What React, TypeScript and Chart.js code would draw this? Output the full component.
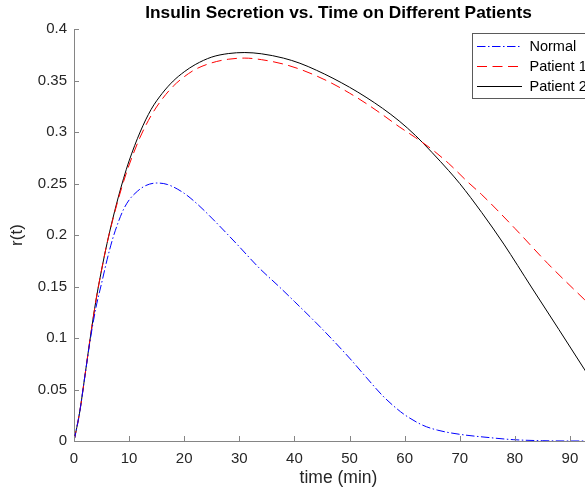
import React, { useEffect, useRef } from "react";
import { Chart, registerables } from "chart.js";

Chart.register(...registerables);

// ---- data ----
const tNormal = [0, 1, 2, 3, 4, 5, 6, 7, 8, 9, 10, 11.5, 13, 15, 17, 20, 22.5, 25, 29.5, 33.7, 37, 40, 45, 50, 53, 56, 58, 60, 63.3, 66, 70, 75.4, 79.7, 85, 92.7, 96];
const rNormal = [0, 0.027, 0.064, 0.1, 0.13, 0.153, 0.176, 0.196, 0.212, 0.225, 0.234, 0.2425, 0.248, 0.2505, 0.249, 0.2405, 0.2295, 0.2165, 0.1915, 0.1675, 0.151, 0.1355, 0.109, 0.0805, 0.062, 0.044, 0.034, 0.0255, 0.0153, 0.0105, 0.0065, 0.0033, 0.0013, 0.0003, 0, 0];

const tPatient1 = [0, 1, 2, 3, 4, 5, 6, 7, 8, 9, 10, 12, 14, 16, 18, 20, 22, 25, 28, 31, 34, 38, 41, 44, 47, 50, 53, 56, 59, 62, 65, 68, 71.5, 74, 80, 86, 92.7, 96];
const rPatient1 = [0, 0.027, 0.064, 0.102, 0.137, 0.166, 0.192, 0.214, 0.234, 0.252, 0.268, 0.295, 0.316, 0.332, 0.3445, 0.3537, 0.3608, 0.3672, 0.3707, 0.3718, 0.3703, 0.366, 0.361, 0.3545, 0.3468, 0.3378, 0.3278, 0.3168, 0.3052, 0.2945, 0.283, 0.2695, 0.2513, 0.2392, 0.2065, 0.1722, 0.137, 0.12];

const tPatient2 = [0, 1, 2, 3, 4, 5, 6, 7, 8, 9, 10, 12, 14, 16, 18, 20, 22, 25, 28, 31, 34, 38, 41, 44, 47, 50, 53, 56, 59, 62, 65, 68, 70, 74, 78, 83, 88, 92.7, 96];
const rPatient2 = [0, 0.027, 0.064, 0.102, 0.137, 0.166, 0.192, 0.215, 0.236, 0.255, 0.272, 0.3, 0.322, 0.3375, 0.3495, 0.3585, 0.3655, 0.3728, 0.3762, 0.3772, 0.376, 0.3718, 0.3668, 0.36, 0.3522, 0.3435, 0.3338, 0.323, 0.3108, 0.2965, 0.28, 0.2625, 0.25, 0.2218, 0.1912, 0.1495, 0.1082, 0.069, 0.041];

const seriesNames = ["Normal", "Patient 1", "Patient 2"];
const xTicks = [0, 10, 20, 30, 40, 50, 60, 70, 80, 90];
const xTickLabels = ["0", "10", "20", "30", "40", "50", "60", "70", "80", "90"];
const yTicks = [0, 0.05, 0.1, 0.15, 0.2, 0.25, 0.3, 0.35, 0.4];
const yTickLabels = ["0", "0.05", "0.1", "0.15", "0.2", "0.25", "0.3", "0.35", "0.4"];

const titleText = "Insulin Secretion vs. Time on Different Patients";
const xLabel = "time (min)";
const yLabel = "r(t)";

const FONT = "'Liberation Sans', Arial, Helvetica, sans-serif";
const AXIS_COLOR = "#858585";
const TEXT_COLOR = "#262626";

const styles = [
  { color: "#0000ff", dash: [8.5, 2.5, 1.5, 2.5] },
  { color: "#ff0000", dash: [10, 5.5] },
  { color: "#000000", dash: [] as number[] },
];

const toPts = (t: number[], r: number[]) => t.map((x, i) => ({ x, y: r[i] }));

const decor = {
  id: "matlabDecor",
  afterDraw(chart: any) {
    const { ctx, chartArea } = chart;
    const xs = chart.scales.x;
    const ys = chart.scales.y;
    ctx.save();
    // inward ticks
    ctx.strokeStyle = AXIS_COLOR;
    ctx.lineWidth = 1;
    ctx.beginPath();
    xTicks.forEach((v) => {
      const px = Math.round(xs.getPixelForValue(v)) + 0.5;
      ctx.moveTo(px, chartArea.bottom);
      ctx.lineTo(px, chartArea.bottom - 5);
    });
    yTicks.forEach((v) => {
      const py = Math.round(ys.getPixelForValue(v)) + 0.5;
      ctx.moveTo(chartArea.left, py);
      ctx.lineTo(chartArea.left + 5, py);
    });
    ctx.stroke();

    // legend box
    const bx = 472.5, by = 33.5, bw = 140, bh = 65;
    ctx.fillStyle = "#ffffff";
    ctx.fillRect(bx, by, bw, bh);
    ctx.strokeStyle = "#5a5a5a";
    ctx.strokeRect(bx, by, bw, bh);
    ctx.font = `14.5px ${FONT}`;
    ctx.textBaseline = "middle";
    ctx.textAlign = "left";
    seriesNames.forEach((name, i) => {
      const y = 46.5 + i * 20;
      ctx.strokeStyle = styles[i].color;
      ctx.setLineDash(styles[i].dash);
      ctx.beginPath();
      ctx.moveTo(477, y);
      ctx.lineTo(522, y);
      ctx.stroke();
      ctx.setLineDash([]);
      ctx.fillStyle = "#000000";
      ctx.fillText(name, 529.5, y + 0.5);
    });
    ctx.restore();
  },
};

export default function App() {
  const ref = useRef<HTMLCanvasElement | null>(null);

  useEffect(() => {
    if (!ref.current) return;
    const datasets = [
      toPts(tNormal, rNormal),
      toPts(tPatient1, rPatient1),
      toPts(tPatient2, rPatient2),
    ].map((data, i) => ({
      label: seriesNames[i],
      data,
      borderColor: styles[i].color,
      borderDash: styles[i].dash,
      borderWidth: 1,
      pointRadius: 0,
      fill: false,
      cubicInterpolationMode: "monotone" as const,
    }));

    const chart = new Chart(ref.current, {
      type: "line",
      data: { datasets },
      options: {
        animation: false,
        responsive: false,
        events: [],
        layout: { padding: 0 },
        plugins: {
          legend: { display: false },
          tooltip: { enabled: false },
          title: {
            display: true,
            text: titleText,
            fullSize: false,
            color: "#000000",
            font: { family: FONT, size: 17.3, weight: "bold" },
            padding: { top: 3.3, bottom: 5 },
          },
        },
        scales: {
          x: {
            type: "linear",
            min: 0,
            max: 96,
            afterBuildTicks: (s: any) => {
              s.ticks = xTicks.map((v) => ({ value: v }));
            },
            afterFit: (s: any) => {
              s.height = 49;
            },
            ticks: {
              autoSkip: false,
              maxRotation: 0,
              padding: 9,
              color: TEXT_COLOR,
              font: { family: FONT, size: 15 },
              callback: (_v: any, i: number) => xTickLabels[i],
            },
            grid: { display: true, drawOnChartArea: false, drawTicks: false },
            border: { display: true, color: AXIS_COLOR, width: 1 },
            title: {
              display: true,
              text: xLabel,
              color: TEXT_COLOR,
              font: { family: FONT, size: 17.5 },
              padding: { top: 0, bottom: 1 },
            },
          },
          y: {
            type: "linear",
            min: 0,
            max: 0.4,
            afterBuildTicks: (s: any) => {
              s.ticks = yTicks.map((v) => ({ value: v }));
            },
            afterFit: (s: any) => {
              s.width = 74;
            },
            ticks: {
              autoSkip: false,
              padding: 7,
              color: TEXT_COLOR,
              font: { family: FONT, size: 15 },
              callback: (_v: any, i: number) => yTickLabels[i],
            },
            grid: { display: true, drawOnChartArea: false, drawTicks: false },
            border: { display: true, color: AXIS_COLOR, width: 1 },
            title: {
              display: true,
              text: yLabel,
              color: TEXT_COLOR,
              font: { family: FONT, size: 17 },
              padding: { top: 7, bottom: 0 },
            },
          },
        },
      },
      plugins: [decor],
    });
    return () => chart.destroy();
  }, []);

  return (
    <div
      style={{
        position: "fixed",
        left: 0,
        top: 0,
        width: 585,
        height: 490,
        overflow: "hidden",
        background: "#ffffff",
      }}
    >
      <canvas ref={ref} width={603} height={490} style={{ display: "block" }} />
    </div>
  );
}
